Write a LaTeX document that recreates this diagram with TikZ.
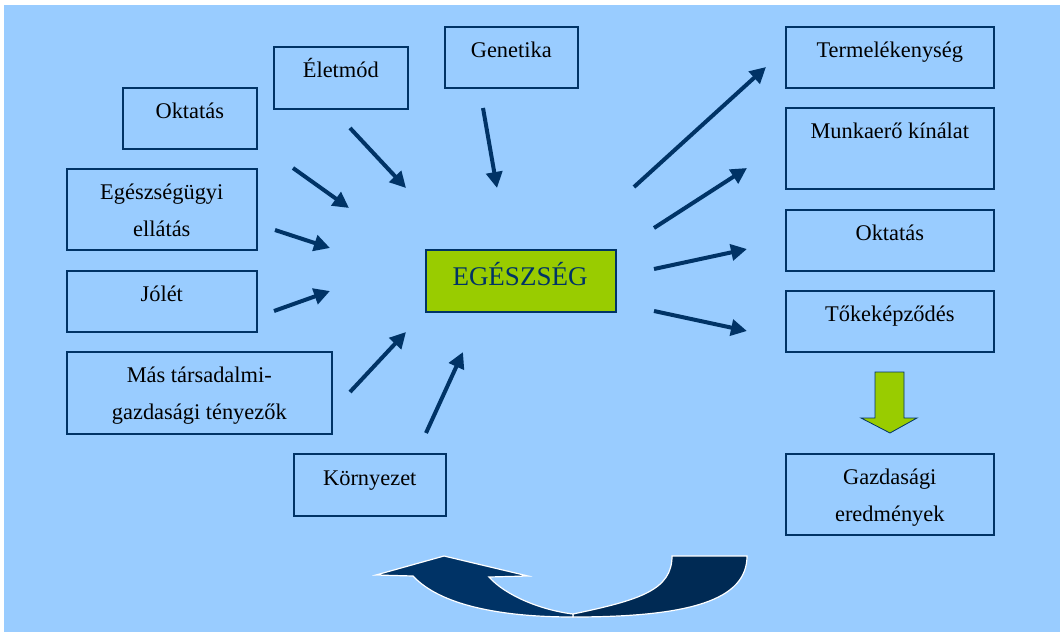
\documentclass[tikz,border=0pt]{standalone}
\usepackage{fontspec}
\setmainfont{Liberation Serif}
\usetikzlibrary{arrows.meta}
\definecolor{bgblue}{RGB}{153,204,255}
\definecolor{dblue}{RGB}{0,51,102}
\definecolor{ddblue}{RGB}{0,42,84}
\definecolor{lgreen}{RGB}{153,204,0}
\tikzset{
  box/.style={draw=dblue, line width=1.6pt, anchor=north west, inner sep=0pt},
  lbl/.style={anchor=base, inner sep=0pt, align=center, text=black,
              font=\fontsize{22.4}{37}\selectfont},
  arr/.style={draw=dblue, line width=4pt, -{Triangle[length=16pt,width=16pt]}},
}
\begin{document}
\begin{tikzpicture}[x=1pt,y=-1pt]
\useasboundingbox (0,0) rectangle (1060,632);
\fill[bgblue] (4,5) rectangle (1060,632);

% left boxes
\node[box, minimum width=134pt, minimum height=62pt] (b1) at (273,46) {};
\node[lbl] (t1) at ([yshift=-31pt]b1.north) {Életmód};
\node[box, minimum width=133pt, minimum height=61pt] (b2) at (444,26) {};
\node[lbl] (t2) at ([yshift=-31pt]b2.north) {Genetika};
\node[box, minimum width=134pt, minimum height=61pt] (b3) at (122,87) {};
\node[lbl] (t3) at ([yshift=-31pt]b3.north) {Oktatás};
\node[box, minimum width=190pt, minimum height=81pt] (b4) at (66,168) {};
\node[lbl] (t4) at ([yshift=-68pt]b4.north) {Egészségügyi\\ellátás};
\node[box, minimum width=190pt, minimum height=61pt] (b5) at (66,270) {};
\node[lbl] (t5) at ([yshift=-31pt]b5.north) {Jólét};
\node[box, minimum width=265pt, minimum height=82pt] (b6) at (66,351) {};
\node[lbl] (t6) at ([yshift=-68pt]b6.north) {Más társadalmi-\\gazdasági tényezők};
\node[box, minimum width=152pt, minimum height=62pt] (b7) at (293,453) {};
\node[lbl] (t7) at ([yshift=-32pt]b7.north) {Környezet};

% right boxes
\node[box, minimum width=208pt, minimum height=61pt] (r1) at (785,26) {};
\node[lbl] (u1) at ([yshift=-31pt]r1.north) {Termelékenység};
\node[box, minimum width=208pt, minimum height=81pt] (r2) at (785,107) {};
\node[lbl] (u2) at ([yshift=-31pt]r2.north) {Munkaerő kínálat};
\node[box, minimum width=208pt, minimum height=61pt] (r3) at (785,209) {};
\node[lbl] (u3) at ([yshift=-31pt]r3.north) {Oktatás};
\node[box, minimum width=208pt, minimum height=61pt] (r4) at (785,290) {};
\node[lbl] (u4) at ([yshift=-31pt]r4.north) {Tőkeképződés};
\node[box, minimum width=208pt, minimum height=81pt] (r5) at (785,453) {};
\node[lbl] (u5) at ([yshift=-68pt]r5.north) {Gazdasági\\eredmények};

% centre
\node[box, fill=lgreen, minimum width=190pt, minimum height=62pt] (c) at (425,249) {};
\node[anchor=base, inner sep=0pt, text=dblue, font=\fontsize{27}{30}\selectfont] (ct) at (520,285) {EGÉSZSÉG};

% arrow end points
\coordinate (a1s) at (350,128); \coordinate (a1e) at (406,188);
\coordinate (a2s) at (483,108); \coordinate (a2e) at (497,188);
\coordinate (a3s) at (293,168); \coordinate (a3e) at (349,208);
\coordinate (a4s) at (275,230); \coordinate (a4e) at (330,248);
\coordinate (a5s) at (274,311); \coordinate (a5e) at (330,291);
\coordinate (a6s) at (350,392); \coordinate (a6e) at (406,332);
\coordinate (a7s) at (426,433); \coordinate (a7e) at (463,352);
\coordinate (o1s) at (634,187); \coordinate (o1e) at (766,67);
\coordinate (o2s) at (654,228); \coordinate (o2e) at (747,168);
\coordinate (o3s) at (654,269); \coordinate (o3e) at (747,249);
\coordinate (o4s) at (654,311); \coordinate (o4e) at (747,331);

\foreach \p in {a1,a2,a3,a4,a5,a6,a7,o1,o2,o3,o4}
  \draw[arr] (\p s) -- (\p e);

% green down arrow
\draw[fill=lgreen, draw=dblue, line width=0.8pt]
  (875,372) -- (904,372) -- (904,418) -- (917,418) -- (890,433)
  -- (861,418) -- (875,418) -- cycle;

% curved return arrow
\draw[fill=ddblue, draw=white, line width=1.2pt]
  (747,556) .. controls (747,600) and (690,617) .. (573,617)
  -- (573,614) .. controls (640,600) and (672,590) .. (672,556) -- cycle;
\draw[fill=dblue, draw=white, line width=1.2pt]
  (573,617) .. controls (500,617) and (440,605) .. (413,576)
  -- (376,575) -- (444,556) -- (528,576) -- (489,577)
  .. controls (505,595) and (540,610) .. (573,614) -- cycle;
\end{tikzpicture}
\end{document}
